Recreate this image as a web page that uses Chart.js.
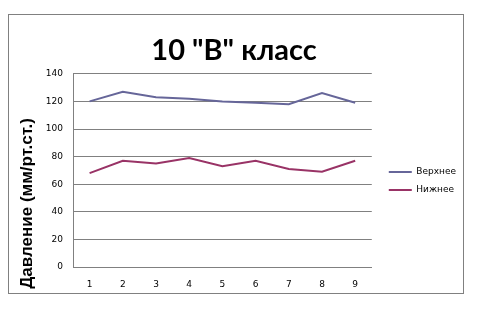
<!DOCTYPE html>
<html>
<head>
<meta charset="utf-8">
<script src="https://cdn.jsdelivr.net/npm/chart.js@4"></script>
<style>
  body { margin: 0; background: #fff; }
  #wrap { width: 479px; height: 321px; }
</style>
</head>
<body>
<div id="wrap"><canvas id="chart" width="479" height="321"></canvas></div>
<script>
const chart = document.getElementById("chart");

const lessons = ["1", "2", "3", "4", "5", "6", "7", "8", "9"];
const upperData = [120, 127, 123, 122, 120, 119, 118, 126, 119];
const lowerData = [68, 77, 75, 79, 73, 77, 71, 69, 77];
const seriesNames = ["Верхнее", "Нижнее"];
const titleText = '10 "В" класс';
// trailing spaces push the rotated title down, as in the original
const axisTitle = "Давление (мм/рт.ст.)" + " ".repeat(14);

// frame around the whole chart, like the office export
const frame = {
  id: "frame",
  beforeDraw(c) {
    const ctx = c.ctx;
    ctx.save();
    ctx.fillStyle = "#fff";
    ctx.fillRect(0, 0, c.width, c.height);
    ctx.strokeStyle = "#808080";
    ctx.lineWidth = 1;
    ctx.strokeRect(8.5, 14.5, 455, 279);
    ctx.restore();
  },
  afterLayout(c) {
    // nudge the legend block to where the original has it
    const lg = c.legend;
    lg.left += 8;
    lg.right += 8;
    lg.top += 28;
    lg.bottom += 28;
  },
};

function showChart() {
  new Chart(chart, {
    type: "line",
    data: {
      labels: lessons,
      datasets: [
        {
          label: seriesNames[0],
          data: upperData,
          borderColor: "#666699",
          backgroundColor: "#666699",
          borderWidth: 2,
          pointRadius: 0,
          tension: 0,
        },
        {
          label: seriesNames[1],
          data: lowerData,
          borderColor: "#993366",
          backgroundColor: "#993366",
          borderWidth: 2,
          pointRadius: 0,
          tension: 0,
        },
      ],
    },
    options: {
      responsive: false,
      animation: false,
      layout: { padding: { left: 10, right: 21, top: 14, bottom: 29 } },
      plugins: {
        title: {
          display: true,
          text: titleText,
          color: "#000",
          font: { family: "Lato", size: 29, weight: "bold" },
          padding: { top: 19, bottom: 6 },
        },
        legend: {
          position: "right",
          labels: {
            color: "#000",
            font: { family: "DejaVu Sans", size: 9 },
            boxWidth: 23,
            boxHeight: 2,
            padding: 9,
            generateLabels: (c) =>
              Chart.defaults.plugins.legend.labels
                .generateLabels(c)
                .map((l) => ({ ...l, lineWidth: 0 })),
          },
        },
        tooltip: { enabled: false },
      },
      scales: {
        x: {
          offset: true,
          grid: { display: false, drawTicks: false },
          border: { color: "#808080" },
          ticks: {
            color: "#000",
            font: { family: "DejaVu Sans", size: 9 },
            padding: 12,
            maxRotation: 0,
          },
          afterFit: (s) => { s.height = 25; },
        },
        y: {
          min: 0,
          max: 140,
          grid: { color: "#808080", drawTicks: false },
          border: { color: "#808080" },
          ticks: {
            stepSize: 20,
            color: "#000",
            font: { family: "DejaVu Sans", size: 9 },
            padding: 10,
          },
          title: {
            display: true,
            text: axisTitle,
            color: "#000",
            font: { family: "Liberation Sans", size: 17, weight: "bold" },
            padding: { top: 7, bottom: 0 },
          },
          afterFit: (s) => { s.width = 63; },
        },
      },
    },
    plugins: [frame],
  });
}

window.addEventListener("load", showChart);
</script>
</body>
</html>
